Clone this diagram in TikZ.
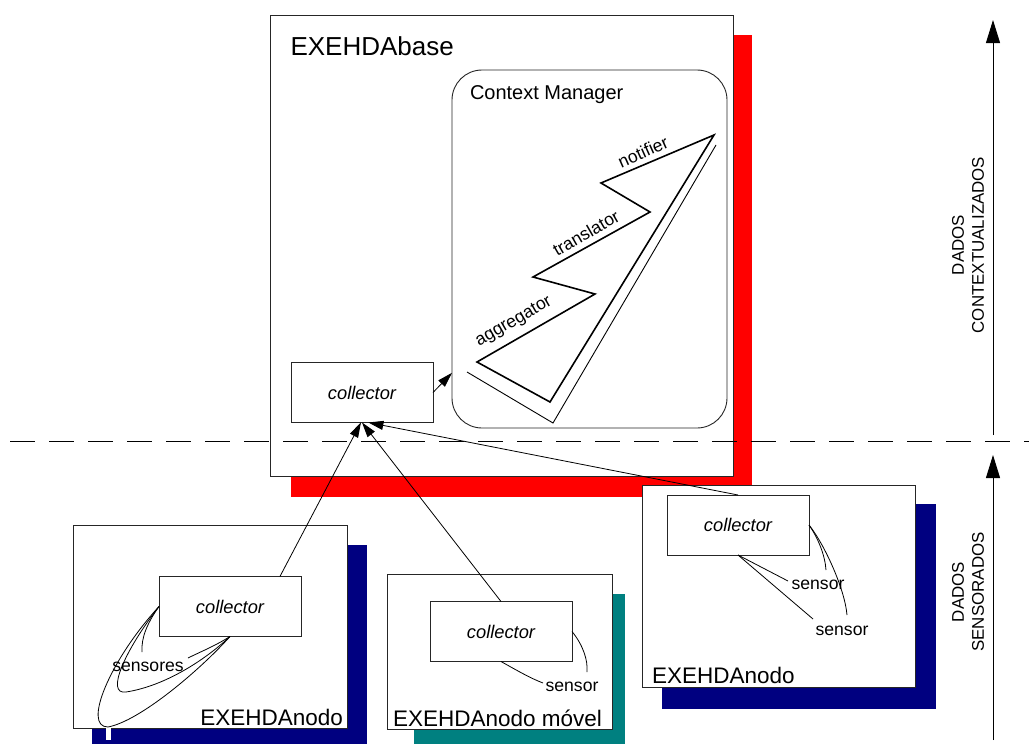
\documentclass[tikz,border=0pt]{standalone}
\usepackage{fontspec}
\setmainfont{Liberation Sans}
\usetikzlibrary{arrows.meta,calc}
\definecolor{navyshade}{RGB}{0,0,128}
\definecolor{tealshade}{RGB}{0,128,128}
\definecolor{redshade}{RGB}{255,0,0}
\begin{document}
\begin{tikzpicture}[x=1pt,y=-1pt,
  every node/.style={inner sep=0pt,outer sep=0pt},
  frame/.style={draw=black!85,fill=white,line width=0.9pt,anchor=north west},
  collbox/.style={draw=black!85,fill=white,line width=0.9pt,minimum width=142pt,
    minimum height=60pt,font=\fontsize{18.3}{22}\selectfont\itshape},
  nodelabel/.style={font=\fontsize{22.5}{27}\selectfont},
  small/.style={font=\fontsize{17.6}{21}\selectfont},
  thin/.style={line width=0.8pt},
  flow/.style={line width=0.8pt,-{Triangle[length=15pt,width=9pt]}},
  axis/.style={line width=0.9pt,-{Triangle[length=23pt,width=14pt]}},
  side/.style={rotate=90,align=center,font=\fontsize{16.9}{20}\selectfont}]
\useasboundingbox (0,0) rectangle (1029,744);

% base node with its shadow
\fill[redshade] (291,35) rectangle (752,497);
\node[frame,minimum width=463pt,minimum height=461pt] (base) at (270,15) {};
\node[anchor=base west,font=\fontsize{26}{30}\selectfont] (lbase) at (290.5,56) {EXEHDAbase};

% context manager
\node[frame,rounded corners=30pt,minimum width=275pt,minimum height=358pt] (cm) at (452,70) {};
\node[anchor=base west,font=\fontsize{20}{24}\selectfont] (lcm) at (470,99) {Context Manager};
\draw[line width=1.6pt,line join=miter] (714,135) -- (601,183) -- (650,212) -- (533,277)
  -- (595,294) -- (477,362) -- (550,402) -- cycle;
\draw[line width=0.9pt] (467,372) -- (553,423) -- (716,145);
\node[small,rotate=24] (lnot) at (643,152) {notifier};
\node[small,rotate=30] (ltra) at (586,233) {translator};
\node[small,rotate=30] (lagg) at (514,322) {aggregator};

\node[collbox] (cbase) at (362,392.5) {collector};
\draw[flow] (cbase.east) -- (cm.222);

% bottom left node
\fill[navyshade] (92,545) rectangle (367,744);
\node[frame,minimum width=274pt,minimum height=203pt] (nleft) at (73,525) {};
\fill[white] (106,728) rectangle (111,740);
\node[collbox] (cleft) at (230,606.5) {collector};
\node[nodelabel,anchor=base east] (lleft) at (343,725) {EXEHDAnodo};
\node[small] (lsens) at (148,667) {sensores};
\draw[thin] (cleft.west) .. controls (148,622) and (141,637) .. (142,652);
\draw[thin] (cleft.west) .. controls (125,650) and (105,695) .. (126,692)
  .. controls (165,686) and (205,660) .. (cleft.south);
\draw[thin] (cleft.west) .. controls (110,660) and (82,727) .. (108,727)
  .. controls (140,721) and (200,670) .. (cleft.south);
\draw[thin] (cleft.south) .. controls (215,646) and (200,652) .. (188,658);

% bottom middle node
\fill[tealshade] (414,594) rectangle (625,744);
\node[frame,minimum width=225pt,minimum height=155pt] (nmid) at (387,574) {};
\node[collbox] (cmid) at (501,631.5) {collector};
\node[nodelabel,anchor=base west] (lmid) at (393,726) {EXEHDAnodo móvel};
\node[small] (smid) at (572,687) {sensor};
\draw[thin] (cmid.south) .. controls (518,671) and (530,678) .. (543,683);
\draw[thin] (cmid.east) .. controls (583,645) and (588,660) .. (587,672);

% bottom right node
\fill[navyshade] (662,504) rectangle (936,709);
\node[frame,minimum width=273pt,minimum height=202pt] (nright) at (642,485) {};
\node[collbox] (cright) at (738,525) {collector};
\node[nodelabel,anchor=base west] (lright) at (652,683) {EXEHDAnodo};
\node[small] (sr1) at (818,585) {sensor};
\node[small] (sr2) at (842,631) {sensor};
\draw[thin] (cright.south) -- (788,581);
\draw[thin] (cright.south) -- (813,619);
\draw[thin] (cright.east) .. controls (818,538) and (825,555) .. (826,570);
\draw[thin] (cright.east) .. controls (825,545) and (845,590) .. (847,615);

% divider between the two data levels
\draw[line width=1.4pt,dash pattern=on 25pt off 14pt] (10,441.5) -- (1029,441.5);

% data flow into the base collector
\draw[flow] (cleft.31) -- (cbase.268);
\draw[flow] (cmid.north) -- (cbase.south);
\draw[flow] (cright.north) -- (cbase.282);

% side axes
\coordinate (ctxlow) at (993,435);
\coordinate (ctxtop) at (993,20);
\coordinate (senlow) at (993,740);
\coordinate (sentop) at (993,455);
\draw[axis] (ctxlow) -- (ctxtop);
\draw[axis] (senlow) -- (sentop);
\node[side] (dctx) at (968,245) {DADOS\\CONTEXTUALIZADOS};
\node[side] (dsen) at (968,592) {DADOS\\SENSORADOS};
\end{tikzpicture}
\end{document}
